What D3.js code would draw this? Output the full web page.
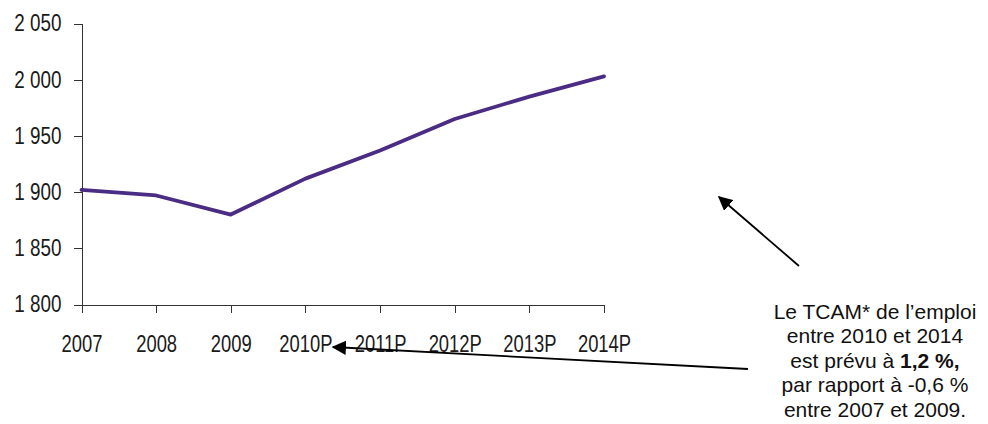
<!DOCTYPE html>
<html>
<head>
<meta charset="utf-8">
<script src="https://cdn.jsdelivr.net/npm/d3@7"></script>
<style>
  body { margin: 0; background: #fff; }
  svg { display: block; }
  .axis text { font-family: "Liberation Sans", Arial, sans-serif; font-size: 23px; fill: #1a1a1a; }
  .axis path, .axis line { stroke: #333; shape-rendering: crispEdges; }
  .note { font-family: "Liberation Sans", Arial, sans-serif; font-size: 21px; fill: #111; }
</style>
</head>
<body>
<svg width="988" height="424"></svg>
<script>
const YEARS = ["2007", "2008", "2009", "2010P", "2011P", "2012P", "2013P", "2014P"]
const EMPLOI = [1902, 1897, 1880, 1912, 1937, 1965, 1985, 2003]
const Y_TICKS = [1800, 1850, 1900, 1950, 2000, 2050]
const NOTE_LINES = [
  [["Le TCAM* de l’emploi", false]],
  [["entre 2010 et 2014", false]],
  [["est prévu à ", false], ["1,2 %,", true]],
  [["par rapport à -0,6 %", false]],
  [["entre 2007 et 2009.", false]]
]

const LINE_COLOR = "#4b2c84"
const fmt = (d) => d3.format(",")(d).replace(",", " ")

const svg = d3.select("svg")

const x = d3.scalePoint().domain(YEARS).range([81.5, 604])
const y = d3.scaleLinear().domain([1800, 2050]).range([304.5, 23.5])

// x axis, labels squeezed to look like a narrow face
svg.append("g")
  .attr("class", "axis")
  .attr("transform", `translate(0,${y(1800)})`)
  .call(d3.axisBottom(x).tickSize(8).tickSizeOuter(0).tickPadding(23))
  .selectAll("text")
  .attr("transform", "scale(0.8,1)")

svg.append("g")
  .attr("class", "axis")
  .attr("transform", `translate(${x(YEARS[0])},0)`)
  .call(d3.axisLeft(y).tickValues(Y_TICKS).tickFormat(fmt).tickSize(8).tickSizeOuter(0))
  .selectAll("text")
  .attr("x", 0)
  .attr("transform", "translate(-20,0) scale(0.82,1)")

const line = d3.line()
  .x((d, i) => x(YEARS[i]))
  .y((d) => y(d))

svg.append("path")
  .datum(EMPLOI)
  .attr("fill", "none")
  .attr("stroke", LINE_COLOR)
  .attr("stroke-width", 3.8)
  .attr("stroke-linejoin", "round")
  .attr("stroke-linecap", "round")
  .attr("d", line)

// arrows
svg.append("defs").append("marker")
  .attr("id", "head")
  .attr("viewBox", "0 0 10 10")
  .attr("refX", 9)
  .attr("refY", 5)
  .attr("markerWidth", 8)
  .attr("markerHeight", 8)
  .attr("markerUnits", "strokeWidth")
  .attr("orient", "auto")
  .append("path")
  .attr("d", "M0,0 L10,5 L0,10 Z")
  .attr("fill", "#000")

const arrows = [
  { from: [799, 266], to: [719, 197] },
  { from: [748, 369], to: [333, 347] }
]
svg.selectAll(".arrow")
  .data(arrows)
  .enter()
  .append("line")
  .attr("class", "arrow")
  .attr("x1", (d) => d.from[0])
  .attr("y1", (d) => d.from[1])
  .attr("x2", (d) => d.to[0])
  .attr("y2", (d) => d.to[1])
  .attr("stroke", "#000")
  .attr("stroke-width", 1.8)
  .attr("marker-end", "url(#head)")

const note = svg.append("text")
  .attr("class", "note")
  .attr("text-anchor", "middle")

NOTE_LINES.forEach((parts, i) => {
  parts.forEach((p, j) => {
    const span = note.append("tspan").text(p[0])
    if (j === 0) span.attr("x", 875).attr("y", 319 + i * 24.4)
    if (p[1]) span.attr("font-weight", "bold")
  })
})
</script>
</body>
</html>
